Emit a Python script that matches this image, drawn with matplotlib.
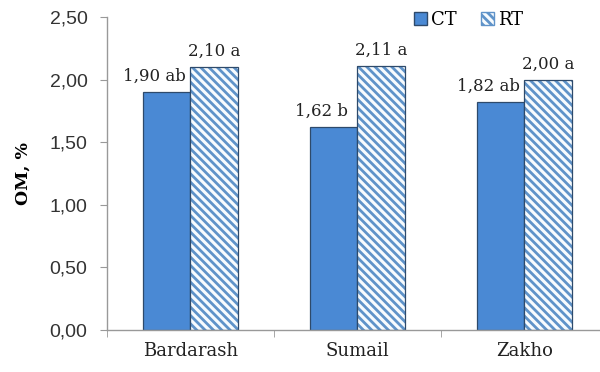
import matplotlib.pyplot as plt
import numpy as np
from matplotlib.patches import Patch

# Organic matter by site and tillage
sites = ["Bardarash", "Sumail", "Zakho"]
ct_values = [1.90, 1.62, 1.82]
rt_values = [2.10, 2.11, 2.00]
ct_letters = ["ab", "b", "ab"]
rt_letters = ["a", "a", "a"]
y_ticks = [0.0, 0.5, 1.0, 1.5, 2.0, 2.5]

SERIF = "DejaVu Serif"
CT_COLOR = "#4a89d4"
EDGE = "#2e4a6b"
HATCH = "#5f93c9"
RT_HATCH = "\\\\\\\\"


def fmt(v):
    return f"{v:.2f}".replace(".", ",")


plt.rcParams["hatch.linewidth"] = 2.0

fig = plt.figure(figsize=(6, 3.72), dpi=100)
ax = fig.add_axes([107 / 600, 42 / 372, 501 / 600, 313 / 372])

x = np.arange(len(sites))
w = 0.287
ax.bar(x - w / 2, ct_values, w, color=CT_COLOR, edgecolor=EDGE, linewidth=0.9)
# hatch takes the edge colour, so the stripes and the outline are drawn separately
ax.bar(x + w / 2, rt_values, w, color="#f7fbfe", edgecolor=HATCH, linewidth=0,
       hatch=RT_HATCH)
ax.bar(x + w / 2, rt_values, w, fill=False, edgecolor=EDGE, linewidth=0.9)

for i in range(len(sites)):
    ax.annotate(f"{fmt(ct_values[i])} {ct_letters[i]}", (x[i] - w / 2, ct_values[i]),
                xytext=(-9, 5), textcoords="offset points", ha="center", va="bottom",
                fontsize=12, family=SERIF, color="#222222")
    ax.annotate(f"{fmt(rt_values[i])} {rt_letters[i]}", (x[i] + w / 2, rt_values[i]),
                xytext=(0, 5), textcoords="offset points", ha="center", va="bottom",
                fontsize=12, family=SERIF, color="#222222")

ax.set_xlim(-0.5, len(sites) - 0.5)
ax.set_ylim(0, 2.5)
ax.set_yticks(y_ticks)
ax.set_yticklabels([fmt(v) for v in y_ticks], fontsize=14, family="Liberation Sans",
                   color="#333333")
ax.set_xticks(x)
ax.set_xticklabels(sites, fontsize=13, family=SERIF, color="#222222")
ax.set_xticks(np.arange(len(sites) + 1) - 0.5, minor=True)
ax.tick_params(axis="x", which="major", length=0, pad=9)
ax.tick_params(axis="x", which="minor", length=5, color="#999999", direction="out")
ax.tick_params(axis="y", length=5, color="#999999", direction="out", pad=9)

for side in ["top", "right"]:
    ax.spines[side].set_visible(False)
for side in ["left", "bottom"]:
    ax.spines[side].set_color("#999999")
    ax.spines[side].set_linewidth(1.0)

ax.set_ylabel("OM, %", fontsize=12.5, family=SERIF, fontweight="bold", labelpad=13)

handles = [Patch(facecolor=CT_COLOR, edgecolor=EDGE, label="CT"),
           Patch(facecolor="#f7fbfe", edgecolor=HATCH, hatch=RT_HATCH, label="RT")]
fig.legend(handles=handles, loc="upper left", bbox_to_anchor=(398 / 600, 1.015), ncol=2,
           frameon=False, prop={"family": SERIF, "size": 13}, handlelength=0.7,
           handleheight=0.7, handletextpad=0.2, columnspacing=1.4)

fig.savefig("out.png", dpi=100)
